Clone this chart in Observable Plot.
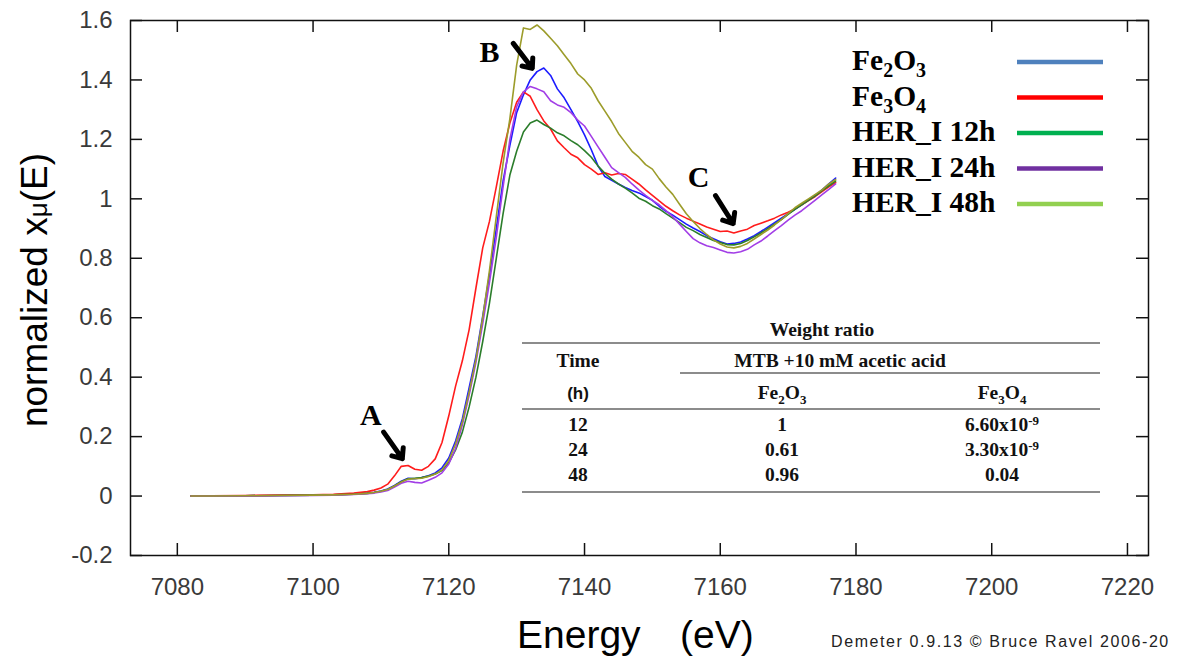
<!DOCTYPE html>
<html><head><meta charset="utf-8">
<script src="https://cdn.jsdelivr.net/npm/d3@7"></script>
<script src="https://cdn.jsdelivr.net/npm/@observablehq/plot@0.6"></script>
<style>body{margin:0;background:#fff;} #chart{width:1183px;height:659px;}</style>
</head><body><div id="chart"></div>
<script>
// ---- data ----
const energy = [7082,7085,7090,7095,7100,7103,7106,7108,7109,7110,7111,7112,7113,7114,7115,7116,7117,7118,7119,7120,7121,7122,7123,7124,7125,7126,7127,7128,7129,7130,7131,7132,7133,7134,7135,7136,7137,7138,7139,7140,7141,7142,7143,7144,7145,7146,7147,7148,7149,7150,7151,7152,7153,7154,7155,7156,7157,7158,7159,7160,7161,7162,7163,7164,7165,7166,7167,7168,7169,7170,7171,7172,7173,7174,7175,7176,7177];
const fe2o3 = [0.000,0.000,0.001,0.002,0.003,0.004,0.007,0.010,0.013,0.017,0.024,0.036,0.050,0.060,0.058,0.062,0.068,0.078,0.095,0.128,0.185,0.260,0.365,0.470,0.605,0.745,0.900,1.060,1.180,1.290,1.350,1.400,1.428,1.440,1.415,1.370,1.340,1.300,1.260,1.215,1.165,1.110,1.075,1.062,1.050,1.038,1.028,1.020,1.008,0.995,0.975,0.958,0.945,0.930,0.915,0.902,0.890,0.876,0.866,0.856,0.848,0.850,0.855,0.865,0.876,0.890,0.905,0.920,0.935,0.950,0.965,0.980,0.996,1.012,1.030,1.050,1.070];
const fe3o4 = [0.000,0.001,0.002,0.003,0.004,0.006,0.010,0.015,0.020,0.027,0.040,0.068,0.100,0.103,0.090,0.087,0.100,0.125,0.180,0.270,0.370,0.455,0.560,0.700,0.835,0.925,1.040,1.160,1.255,1.325,1.360,1.345,1.300,1.262,1.235,1.195,1.172,1.150,1.138,1.115,1.100,1.082,1.088,1.080,1.085,1.082,1.066,1.050,1.030,1.012,0.993,0.975,0.960,0.946,0.935,0.925,0.915,0.905,0.898,0.890,0.892,0.885,0.892,0.898,0.910,0.918,0.926,0.935,0.946,0.955,0.966,0.980,0.994,1.008,1.024,1.040,1.055];
const her12 = [0.000,0.000,0.001,0.002,0.003,0.004,0.006,0.009,0.012,0.016,0.022,0.034,0.048,0.058,0.060,0.062,0.067,0.074,0.086,0.112,0.155,0.215,0.300,0.400,0.520,0.650,0.800,0.950,1.080,1.160,1.225,1.255,1.265,1.250,1.238,1.222,1.212,1.196,1.182,1.162,1.140,1.110,1.086,1.066,1.050,1.036,1.020,1.002,0.992,0.977,0.966,0.950,0.935,0.920,0.904,0.893,0.880,0.870,0.860,0.853,0.846,0.845,0.850,0.860,0.872,0.885,0.900,0.915,0.930,0.948,0.965,0.980,0.995,1.010,1.028,1.044,1.060];
const her24 = [0.000,0.000,0.000,0.001,0.002,0.003,0.005,0.008,0.010,0.014,0.019,0.030,0.043,0.050,0.046,0.044,0.053,0.063,0.078,0.108,0.160,0.240,0.340,0.450,0.580,0.720,0.870,1.040,1.200,1.310,1.360,1.378,1.370,1.360,1.330,1.316,1.308,1.290,1.265,1.245,1.210,1.175,1.140,1.105,1.088,1.072,1.050,1.030,1.012,0.995,0.980,0.960,0.940,0.915,0.890,0.866,0.852,0.842,0.836,0.828,0.820,0.818,0.822,0.830,0.845,0.858,0.875,0.893,0.910,0.928,0.945,0.960,0.978,0.996,1.014,1.032,1.050];
const her48 = [0.000,0.000,0.001,0.002,0.003,0.004,0.006,0.009,0.012,0.016,0.022,0.034,0.047,0.057,0.058,0.060,0.066,0.074,0.088,0.120,0.175,0.250,0.350,0.460,0.600,0.760,0.940,1.120,1.270,1.450,1.575,1.570,1.585,1.565,1.540,1.515,1.485,1.455,1.420,1.400,1.372,1.330,1.295,1.260,1.220,1.190,1.160,1.140,1.115,1.100,1.068,1.040,1.015,0.982,0.950,0.924,0.900,0.880,0.862,0.848,0.838,0.835,0.840,0.850,0.865,0.880,0.895,0.912,0.930,0.950,0.970,0.985,1.000,1.015,1.030,1.050,1.065];

const seriesNames = ["Fe2O3","Fe3O4","HER_I 12h","HER_I 24h","HER_I 48h"];
const lineColors = ["#1c1cff","#ff1c1c","#2b7d2b","#a23ee6","#9c9c2a"];
const legendLabels = ["Fe{2}O{3}","Fe{3}O{4}","HER_I 12h","HER_I 24h","HER_I 48h"];
const legendColors = ["#4f81bd","#ff0000","#00b050","#7030a0","#92d050"];

const xTicks = [7080,7100,7120,7140,7160,7180,7200,7220];
const yTicks = [-0.2,0,0.2,0.4,0.6,0.8,1,1.2,1.4,1.6];

const annoLabels = ["A","B","C"];
const annoTextX = [7108.5,7126.0,7156.8];
const annoTextY = [0.271,1.494,1.072];
const arrowFromX = [7110.4,7129.5,7159.3];
const arrowFromY = [0.215,1.523,1.011];
const arrowToX = [7113.15,7132.3,7161.9];
const arrowToY = [0.126,1.439,0.917];

const tableTitle = "Weight ratio";
const tableHead1 = ["Time","MTB +10 mM acetic acid"];
const tableHead2 = ["(h)","Fe{2}O{3}","Fe{3}O{4}"];
const tableTimes = ["12","24","48"];
const tableFe2O3 = ["1","0.61","0.96"];
const tableFe3O4 = ["6.60x10^{-9}","3.30x10^{-9}","0.04"];

const xLabel = ["Energy","(eV)"];
const yLabel = ["normalized x","\u03bc","(E)"];
const credit = "Demeter 0.9.13 \u00a9 Bruce Ravel 2006-20";

// ---- build ----
const W = 1183, H = 659, mL = 130, mR = 35, mT = 20, mB = 104;
const innerW = W - mL - mR, innerH = H - mT - mB;
const seriesValues = [fe2o3, fe3o4, her12, her24, her48];
const rows = seriesNames.flatMap((n, k) => energy.map((e, i) => ({energy: e, mu: seriesValues[k][i], series: n})));
const annotations = annoLabels.map((l, i) => ({label: l, tx: annoTextX[i], ty: annoTextY[i],
  x1: arrowFromX[i], y1: arrowFromY[i], x2: arrowToX[i], y2: arrowToY[i]}));

const serif = "'Liberation Serif','Times New Roman',serif";
const sans = "'Liberation Sans',Arial,sans-serif";

const svg = Plot.plot({
  width: W, height: H, marginLeft: mL, marginRight: mR, marginTop: mT, marginBottom: mB,
  style: {fontFamily: sans, background: "#fff", color: "#3a3a3a"},
  x: {domain: [7073.1, 7223.1]},
  y: {domain: [-0.2, 1.6]},
  color: {domain: seriesNames, range: lineColors},
  marks: [
    Plot.line(rows, {x: "energy", y: "mu", z: "series", stroke: "series", strokeWidth: 1.6}),
    Plot.tickX(xTicks, {x: d => d, insetTop: innerH - 12, stroke: "#111", strokeWidth: 1.5}),
    Plot.tickX(xTicks, {x: d => d, insetBottom: innerH - 12, stroke: "#111", strokeWidth: 1.5}),
    Plot.tickY(yTicks, {y: d => d, insetRight: innerW - 12, stroke: "#111", strokeWidth: 1.5}),
    Plot.tickY(yTicks, {y: d => d, insetLeft: innerW - 12, stroke: "#111", strokeWidth: 1.5}),
    Plot.frame({stroke: "#111", strokeWidth: 1.5}),
    Plot.axisX(xTicks, {tickSize: 0, tickPadding: 22, fontSize: 24, label: null, tickFormat: d => String(d)}),
    Plot.axisY(yTicks, {tickSize: 0, tickPadding: 18, fontSize: 24, label: null, tickFormat: d => String(+d.toFixed(1))}),
    Plot.arrow(annotations, {x1: "x1", y1: "y1", x2: "x2", y2: "y2", stroke: "#000", strokeWidth: 5, headLength: 13, headAngle: 80}),
    Plot.text(annotations, {x: "tx", y: "ty", text: "label", fontFamily: serif, fontWeight: "bold", fontSize: 30, fill: "#000"})
  ]
});
document.getElementById("chart").appendChild(svg);

const root = d3.select(svg);
function rich(t, str, subSize, shift) {
  let off = 0;
  str.split(/(\^?\{[^}]*\})/).filter(s => s.length).forEach(p => {
    let target = 0, content = p, size = null;
    if (p.startsWith("^{")) { target = -shift; content = p.slice(2, -1); size = subSize; }
    else if (p.startsWith("{")) { target = shift; content = p.slice(1, -1); size = subSize; }
    const ts = t.append("tspan").attr("dy", target - off).text(content);
    if (size) ts.attr("font-size", size);
    off = target;
  });
}

// legend
legendLabels.forEach((lab, i) => {
  const y = 62 + i * 35.5;
  const t = root.append("text").attr("x", 852).attr("y", y + 8).attr("text-anchor", "start")
    .attr("font-family", serif).attr("font-weight", "bold").attr("font-size", 29.5).attr("fill", "#000");
  rich(t, lab, 20, 7);
  root.append("line").attr("x1", 1017).attr("x2", 1103).attr("y1", y).attr("y2", y)
    .attr("stroke", legendColors[i]).attr("stroke-width", 4.5);
});

// table
const tg = root.append("g").attr("font-family", serif).attr("font-weight", "bold").attr("font-size", 19.5)
  .attr("fill", "#111").attr("text-anchor", "middle");
[[522, 343], [680, 373], [522, 409], [522, 492]].forEach(([x1, y]) => {
  tg.append("line").attr("x1", x1).attr("x2", 1100).attr("y1", y).attr("y2", y).attr("stroke", "#666").attr("stroke-width", 1.6);
});
tg.append("text").attr("x", 822).attr("y", 336).text(tableTitle);
tg.append("text").attr("x", 578).attr("y", 367).text(tableHead1[0]);
tg.append("text").attr("x", 840).attr("y", 367).text(tableHead1[1]);
tg.append("text").attr("x", 578).attr("y", 399).attr("font-family", sans).attr("font-size", 17).text(tableHead2[0]);
rich(tg.append("text").attr("x", 782).attr("y", 399), tableHead2[1], 13, 5);
rich(tg.append("text").attr("x", 1002).attr("y", 399), tableHead2[2], 13, 5);
const rowY = [431, 456, 481];
tableTimes.forEach((t, i) => {
  tg.append("text").attr("x", 578).attr("y", rowY[i]).text(t);
  tg.append("text").attr("x", 782).attr("y", rowY[i]).text(tableFe2O3[i]);
  rich(tg.append("text").attr("x", 1002).attr("y", rowY[i]), tableFe3O4[i], 13, 6);
});

// axis titles and credit
root.append("text").attr("x", 517).attr("y", 648).attr("text-anchor", "start").attr("font-family", sans).attr("font-size", 39).attr("fill", "#000").text(xLabel[0]);
root.append("text").attr("x", 680).attr("y", 648).attr("text-anchor", "start").attr("font-family", sans).attr("font-size", 39).attr("fill", "#000").text(xLabel[1]);
const yl = root.append("text").attr("transform", "translate(47,290) rotate(-90)").attr("text-anchor", "middle")
  .attr("font-family", sans).attr("font-size", 37).attr("fill", "#000");
yl.append("tspan").text(yLabel[0]);
yl.append("tspan").attr("font-size", 26).text(yLabel[1]);
yl.append("tspan").text(yLabel[2]);
root.append("text").attr("x", 831).attr("y", 647).attr("text-anchor", "start").attr("font-family", sans).attr("font-size", 16)
  .attr("letter-spacing", 1.6).attr("fill", "#222").text(credit);
</script>
</body></html>
